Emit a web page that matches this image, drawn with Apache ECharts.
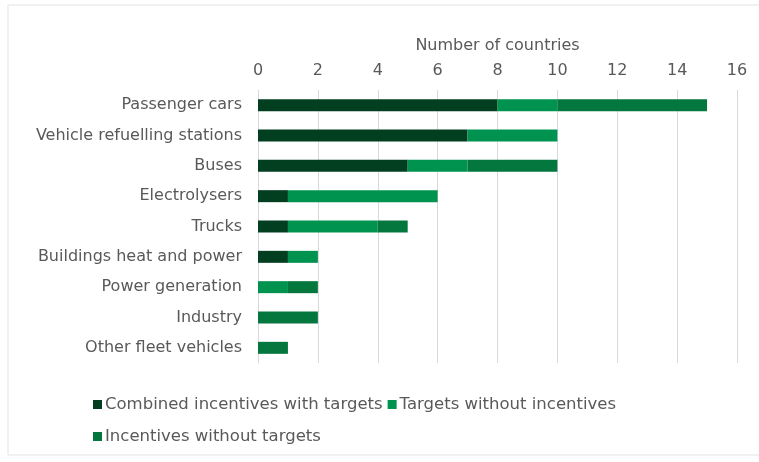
<!DOCTYPE html>
<html>
<head>
<meta charset="utf-8">
<script src="https://cdn.jsdelivr.net/npm/echarts@6/dist/echarts.min.js"></script>
<style>
  html, body { margin: 0; padding: 0; background: #fff; }
  #chart { width: 759px; height: 462px; }
</style>
</head>
<body>
<div id="chart"></div>
<script>
// categories, top to bottom
const categories = [
  "Passenger cars",
  "Vehicle refuelling stations",
  "Buses",
  "Electrolysers",
  "Trucks",
  "Buildings heat and power",
  "Power generation",
  "Industry",
  "Other fleet vehicles",
];
const combined = [8, 7, 5, 1, 1, 1, 0, 0, 0];
const targetsOnly = [2, 3, 2, 5, 3, 1, 1, 0, 0];
const incentivesOnly = [5, 0, 3, 0, 1, 0, 1, 2, 1];
const seriesNames = [
  "Combined incentives with targets",
  "Targets without incentives",
  "Incentives without targets",
];
const colors = ["#023f21", "#00934f", "#04773f"];

const chart = echarts.init(document.getElementById("chart"));
const font = "DejaVu Sans, Verdana, sans-serif";

const mk = (name, data, color) => ({
  name: name,
  type: "bar",
  stack: "total",
  data: data,
  barWidth: 12,
  itemStyle: { color: color },
});

// legend is split into two rows like the original
const legendRow = (top, names) => ({
  left: 88,
  top: top,
  itemWidth: 9,
  itemHeight: 9,
  itemGap: 5,
  icon: "rect",
  textStyle: { color: "#595959", fontSize: 16.5, fontFamily: font, padding: [0, 0, 0, -2] },
  data: names,
});

const option = {
  animation: false,
  textStyle: { fontFamily: font },
  graphic: [
    {
      type: "rect",
      shape: { x: 8, y: 5, width: 760, height: 450 },
      style: { fill: "none", stroke: "#e3e3e3", lineWidth: 1 },
      silent: true,
    },
  ],
  grid: { left: 258, right: 22, top: 90, bottom: 99 },
  legend: [
    legendRow(391, seriesNames.slice(0, 2)),
    legendRow(423, seriesNames.slice(2)),
  ],
  xAxis: {
    type: "value",
    position: "top",
    min: 0,
    max: 16,
    interval: 2,
    name: "Number of countries",
    nameLocation: "middle",
    nameGap: 36,
    nameTextStyle: { color: "#595959", fontSize: 16, fontFamily: font },
    axisLine: { show: false },
    axisTick: { show: false },
    axisLabel: { color: "#595959", fontSize: 16, margin: 11, fontFamily: font },
    splitLine: { lineStyle: { color: "#d9d9d9" } },
  },
  yAxis: {
    type: "category",
    data: categories,
    inverse: true,
    axisTick: { show: false },
    axisLine: { lineStyle: { color: "#d9d9d9" } },
    axisLabel: { color: "#595959", fontSize: 16, margin: 16, fontFamily: font },
  },
  series: [
    mk(seriesNames[0], combined, colors[0]),
    mk(seriesNames[1], targetsOnly, colors[1]),
    mk(seriesNames[2], incentivesOnly, colors[2]),
  ],
};

chart.setOption(option);
</script>
</body>
</html>
